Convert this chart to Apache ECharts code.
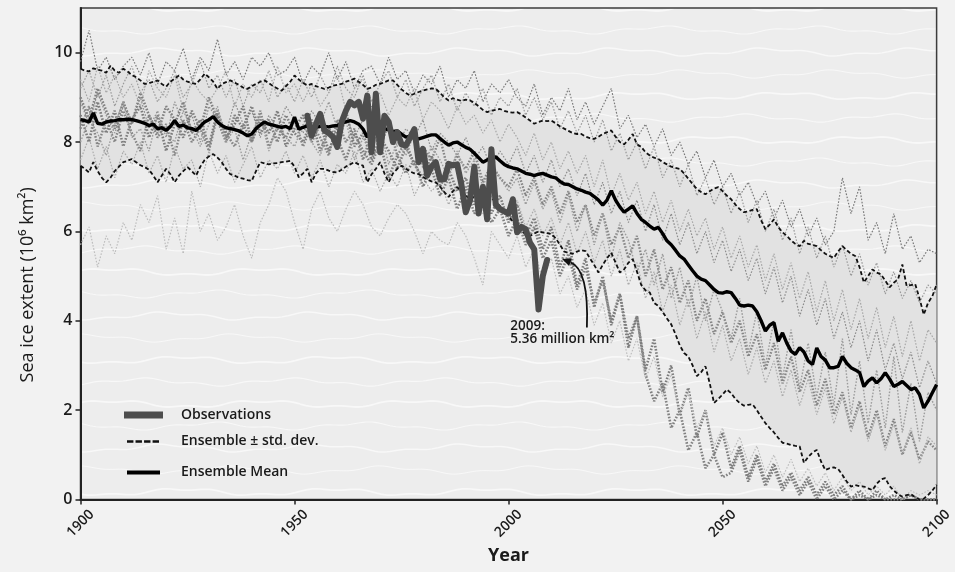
<!DOCTYPE html>
<html><head><meta charset="utf-8">
<script src="https://cdn.jsdelivr.net/npm/echarts@6/dist/echarts.min.js"></script>
<style>html,body{margin:0;padding:0;background:#f2f2f2}#c{width:955px;height:572px}</style>
</head><body><div id="c"></div>
<script>
// ---------- DATA ----------
const yearsAnnual = []; for (let y = 1900; y <= 2100; y++) yearsAnnual.push(y);
const memberYears = []; for (let y = 1900; y <= 2100; y += 2) memberYears.push(y);
const obsYears = []; for (let y = 1953; y <= 2009; y++) obsYears.push(y);
const xTicks = [1900, 1950, 2000, 2050, 2100];
const yTicks = [0, 2, 4, 6, 8, 10];

const ensembleMean = [
 8.50,8.48,8.45,8.65,8.42,8.40,8.45,8.47,8.48,8.50,
 8.50,8.51,8.50,8.48,8.45,8.42,8.37,8.40,8.30,8.32,
 8.26,8.35,8.48,8.35,8.38,8.32,8.30,8.26,8.35,8.45,
 8.50,8.57,8.45,8.37,8.32,8.30,8.28,8.25,8.20,8.14,
 8.18,8.30,8.38,8.45,8.40,8.38,8.35,8.33,8.35,8.30,
 8.56,8.29,8.33,8.36,8.34,8.33,8.35,8.35,8.34,8.36,
 8.37,8.42,8.45,8.48,8.45,8.40,8.29,8.11,8.28,8.30,
 8.32,8.30,8.27,8.24,8.25,8.18,8.11,8.13,8.10,8.07,
 8.10,8.13,8.16,8.16,8.08,8.00,7.93,7.98,8.00,7.94,
 7.88,7.84,7.75,7.65,7.55,7.60,7.64,7.67,7.58,7.50,
 7.45,7.42,7.40,7.35,7.30,7.28,7.25,7.28,7.30,7.26,
 7.22,7.20,7.12,7.06,7.05,7.00,6.95,6.92,6.88,6.85,
 6.78,6.70,6.59,6.70,6.91,6.70,6.55,6.43,6.50,6.57,
 6.40,6.27,6.20,6.12,6.05,6.09,5.95,5.79,5.70,5.58,
 5.45,5.38,5.25,5.12,5.00,4.93,4.90,4.80,4.70,4.63,
 4.62,4.65,4.63,4.50,4.35,4.33,4.35,4.33,4.20,4.00,
 3.77,3.90,3.96,3.54,3.73,3.50,3.32,3.25,3.40,3.30,
 3.10,3.02,3.39,3.20,3.12,2.95,2.95,2.98,3.20,3.05,
 2.95,2.90,2.84,2.53,2.65,2.72,2.61,2.70,2.84,2.70,
 2.53,2.58,2.64,2.55,2.46,2.50,2.35,2.05,2.20,2.39,
 2.57];

const ensembleUpper = [
 9.64,9.60,9.58,9.65,9.62,9.60,9.55,9.71,9.60,9.55,
 9.64,9.58,9.50,9.45,9.38,9.30,9.32,9.35,9.38,9.30,
 9.24,9.35,9.42,9.49,9.40,9.35,9.32,9.30,9.40,9.53,
 9.45,9.35,9.19,9.30,9.34,9.38,9.33,9.28,9.22,9.19,
 9.25,9.30,9.35,9.38,9.32,9.25,9.20,9.15,9.25,9.35,
 9.49,9.40,9.32,9.27,9.30,9.25,9.22,9.19,9.22,9.26,
 9.28,9.30,9.35,9.38,9.42,9.35,9.28,9.19,9.22,9.28,
 9.30,9.34,9.38,9.38,9.28,9.18,9.10,9.04,9.08,9.12,
 9.15,9.18,9.20,9.19,9.10,9.00,8.93,8.98,8.95,8.92,
 8.95,8.93,8.88,8.80,8.72,8.67,8.70,8.72,8.74,8.70,
 8.67,8.66,8.67,8.62,8.55,8.48,8.41,8.45,8.48,8.47,
 8.48,8.42,8.35,8.30,8.25,8.20,8.18,8.18,8.12,8.09,
 8.07,8.12,8.18,8.22,8.26,8.12,8.00,7.95,8.05,8.18,
 7.95,7.89,7.77,7.70,7.65,7.62,7.55,7.50,7.45,7.42,
 7.40,7.30,7.18,7.06,6.95,6.88,6.83,6.90,6.96,6.99,
 6.90,6.80,6.72,6.60,6.50,6.43,6.45,6.48,6.50,6.25,
 6.05,6.15,6.27,6.10,5.98,5.90,5.80,5.72,5.67,5.79,
 5.72,5.70,5.67,5.58,5.50,5.45,5.41,5.55,5.67,5.58,
 5.50,5.45,5.20,4.86,5.00,5.15,5.08,5.04,4.90,4.75,
 4.85,4.93,5.26,4.78,4.80,4.82,4.50,4.14,4.40,4.55,
 4.81];

const ensembleLower = [
 7.47,7.40,7.32,7.55,7.35,7.20,7.10,7.20,7.35,7.45,
 7.55,7.58,7.62,7.55,7.48,7.44,7.38,7.25,7.10,7.25,
 7.40,7.28,7.10,7.25,7.35,7.44,7.35,7.25,7.45,7.60,
 7.68,7.73,7.65,7.55,7.40,7.28,7.25,7.20,7.18,7.15,
 7.13,7.35,7.55,7.52,7.50,7.52,7.53,7.55,7.56,7.58,
 7.45,7.21,7.30,7.40,7.10,7.30,7.40,7.40,7.36,7.33,
 7.32,7.38,7.45,7.50,7.55,7.50,7.47,7.10,7.28,7.40,
 7.55,7.30,7.10,7.30,7.40,7.47,7.40,7.34,7.30,7.28,
 7.22,7.16,7.12,7.10,7.00,6.88,6.77,6.90,6.99,6.90,
 6.80,6.72,6.78,6.84,6.88,6.85,6.75,6.65,6.57,6.45,
 6.35,6.22,6.10,6.00,5.94,5.90,5.95,6.00,5.98,5.96,
 5.94,5.85,5.70,5.55,5.52,5.50,5.55,5.58,5.56,5.40,
 5.25,5.08,5.25,5.40,5.52,5.30,5.08,5.15,5.30,5.38,
 5.10,4.80,4.68,4.63,4.40,4.33,4.20,4.05,3.92,3.70,
 3.45,3.28,3.20,3.00,2.76,2.85,2.98,2.60,2.16,2.25,
 2.35,2.46,2.38,2.25,2.16,2.10,2.12,2.13,2.00,1.85,
 1.71,1.60,1.50,1.38,1.27,1.25,1.22,1.20,1.19,0.82,
 0.95,1.05,1.11,0.85,0.66,0.70,0.72,0.68,0.55,0.40,
 0.29,0.32,0.30,0.29,0.25,0.21,0.35,0.45,0.48,0.30,
 0.20,0.12,0.06,0.10,0.12,0.05,0.00,0.02,0.10,0.20,
 0.33];

const observations = [
 8.59,8.14,8.40,8.63,8.26,8.20,8.11,7.89,8.45,8.70,
 8.90,8.82,8.90,8.52,9.04,7.77,9.08,7.77,8.59,8.45,
 8.00,8.22,7.95,7.92,8.10,8.29,7.55,7.85,7.25,7.45,
 7.55,7.17,7.17,7.51,7.48,7.50,7.04,6.43,6.70,7.45,
 6.40,7.00,6.27,7.84,6.60,6.50,6.45,6.40,6.72,5.98,
 6.10,6.05,5.75,5.60,4.25,5.00,5.36];

// ensemble members, every second year 1900..2100
const member1 = [
 9.8,10.5,9.6,9.9,9.4,9.7,9.9,9.5,10.0,9.3,9.8,9.6,10.1,9.4,9.9,9.6,10.3,9.5,9.8,9.4,9.9,9.7,10.0,9.5,9.6,9.9,
 9.3,9.7,9.5,10.0,9.4,9.8,9.2,9.6,9.7,9.3,9.9,9.4,9.6,9.1,9.5,9.3,9.7,9.0,9.4,9.2,9.6,8.9,9.3,9.1,9.4,
 9.0,8.8,9.3,8.6,9.0,8.7,9.2,8.5,8.9,8.4,8.8,9.2,8.3,8.6,8.1,8.4,7.9,8.3,7.7,8.0,7.5,7.8,7.2,7.6,7.0,
 7.3,6.8,7.1,6.6,6.9,6.3,6.7,6.1,6.5,5.9,6.3,5.7,6.0,7.2,6.4,7.0,5.8,6.2,5.5,6.4,5.6,5.9,5.3,5.6,5.5];
const member2 = [
 9.2,9.6,9.0,9.5,8.8,9.3,9.7,9.1,9.4,8.9,9.2,9.6,9.0,9.3,9.8,9.2,9.5,9.0,9.4,8.8,9.3,9.1,9.6,9.0,9.3,8.9,
 9.4,9.0,9.5,9.1,9.7,9.2,9.0,9.5,8.9,9.3,9.6,9.0,9.4,8.8,9.2,9.5,8.9,9.3,8.7,9.1,8.8,9.2,8.6,9.0,8.8,
 9.2,8.6,9.0,8.5,8.9,8.3,8.7,8.2,8.6,8.0,8.5,7.8,8.2,7.6,8.0,7.4,7.9,7.2,7.6,7.0,7.5,6.8,7.2,6.6,7.0,
 6.4,6.9,6.2,6.7,6.0,6.5,5.8,6.3,5.5,6.1,5.4,5.9,5.2,5.7,5.0,5.5,4.8,5.3,4.6,5.1,4.5,4.9,4.4,4.8,4.6];
const member3 = [
 8.9,8.4,9.1,8.6,8.2,8.8,8.5,9.0,8.3,8.7,8.1,8.9,8.4,8.6,8.0,8.8,8.5,8.2,8.9,8.4,8.7,8.1,8.6,8.3,8.8,8.5,
 8.2,8.7,8.4,8.9,8.3,8.6,8.1,8.5,8.8,8.2,8.4,7.9,8.3,8.1,8.5,7.8,8.2,8.0,7.7,8.1,7.6,7.9,7.4,7.8,7.5,
 7.9,7.3,7.7,7.1,7.6,7.0,7.4,6.8,7.3,6.6,7.1,6.4,6.9,6.2,6.7,6.0,6.6,5.8,6.4,5.7,6.2,5.5,6.0,5.3,5.8,
 5.1,5.6,4.9,5.4,4.6,5.2,4.4,5.0,4.1,4.7,3.9,4.5,3.6,4.2,3.4,4.0,3.1,3.8,2.9,3.5,2.7,3.3,2.5,3.1,2.6];
const member4 = [
 8.3,8.8,7.9,8.5,8.0,8.7,8.2,7.8,8.6,8.1,8.4,7.7,8.5,8.0,8.3,7.8,8.6,8.2,7.9,8.4,8.0,8.7,7.9,8.3,8.1,8.5,
 7.9,8.4,8.1,7.7,8.5,8.0,8.3,7.6,8.2,7.9,8.4,7.7,8.0,7.5,7.9,7.6,8.1,7.3,7.7,7.4,7.8,7.1,7.5,7.2,7.0,
 7.4,6.8,7.2,6.6,7.0,6.4,6.9,6.2,6.6,5.9,6.4,5.7,6.1,5.4,5.9,5.0,5.6,4.7,5.2,4.4,4.9,4.0,4.5,3.7,4.2,
 3.5,4.0,3.2,3.7,2.9,3.5,2.6,3.2,2.4,2.9,2.1,2.7,1.9,2.4,1.6,2.2,1.4,2.0,1.2,1.8,1.0,1.5,0.9,1.3,1.1];
const member5 = [
 7.6,8.1,7.4,7.9,7.2,7.8,7.5,8.0,7.3,7.7,7.1,7.9,7.4,7.6,7.0,7.8,7.3,7.7,7.1,7.5,7.9,7.2,7.6,7.4,7.8,7.3,
 7.7,7.2,7.6,7.0,7.5,7.3,7.8,7.1,7.4,6.9,7.3,7.0,7.5,6.8,7.2,6.9,7.1,6.6,7.0,6.7,6.9,6.4,6.8,6.5,6.3,
 6.7,6.1,6.5,5.9,6.3,5.7,6.2,5.5,6.0,5.3,5.8,5.0,5.6,4.8,5.3,4.5,5.1,4.2,4.8,3.9,4.5,3.6,4.2,3.3,3.9,
 3.1,3.6,2.8,3.4,2.6,3.1,2.3,2.9,2.1,2.7,1.9,2.5,1.7,2.3,1.5,2.1,1.3,1.9,1.1,1.7,1.0,1.6,0.8,1.4,1.2];
const member6 = [
 8.6,8.0,8.9,8.2,8.7,7.9,8.5,8.8,8.1,8.6,7.8,8.4,8.9,8.2,8.5,7.9,8.7,8.1,8.4,8.8,8.0,8.5,8.2,8.7,7.9,8.3,
 8.6,8.0,8.4,7.8,8.3,8.7,7.9,8.2,7.6,8.1,7.8,7.4,7.9,7.5,7.2,7.7,7.0,7.4,6.9,7.2,6.6,7.0,6.4,6.8,6.2,
 6.6,5.9,6.3,5.6,6.1,5.2,5.8,4.8,5.4,4.3,5.0,3.9,4.6,3.4,4.1,2.9,3.6,2.4,3.0,1.9,2.5,1.4,2.0,1.0,1.5,
 0.7,1.2,0.5,1.0,0.4,0.8,0.3,0.6,0.2,0.5,0.1,0.4,0.1,0.3,0.0,0.2,0.0,0.2,0.0,0.1,0.0,0.1,0.0,0.0,0.0];
const member7 = [
 9.0,8.5,9.2,8.7,8.3,8.9,8.4,9.1,8.6,8.2,8.8,8.5,8.1,8.7,8.3,9.0,8.5,8.0,8.6,8.3,8.8,8.2,8.5,8.0,8.6,8.2,
 8.0,8.5,7.8,8.3,8.1,7.6,8.2,7.8,7.5,8.0,7.2,7.7,7.3,7.6,7.0,7.4,6.8,7.2,6.5,7.0,6.4,6.7,6.2,6.5,5.9,
 6.3,5.7,6.1,5.4,5.8,5.0,5.5,4.7,5.2,4.4,4.9,4.0,4.6,3.6,4.1,2.8,2.2,2.6,1.6,2.0,1.1,1.5,0.7,1.0,0.5,
 0.6,1.1,0.4,0.9,0.3,0.7,0.2,0.5,0.1,0.4,0.0,0.3,0.0,0.2,0.0,0.1,0.0,0.1,0.0,0.0,0.0,0.1,0.0,0.0,0.0];
const member8 = [
 5.7,6.1,5.2,5.9,5.5,6.2,5.8,6.6,6.2,6.8,5.6,6.3,5.5,6.9,6.0,6.4,5.8,6.1,6.6,5.9,5.4,6.2,6.6,7.2,6.9,6.2,
 5.6,6.5,6.9,6.3,6.0,6.5,6.9,6.6,6.1,5.9,6.3,6.6,6.4,6.0,5.5,6.0,5.8,5.7,6.2,5.9,5.4,4.8,6.0,5.7,5.4,
 5.9,5.2,5.6,4.9,5.4,4.6,5.0,4.3,4.7,3.9,4.4,3.5,4.0,3.1,3.6,2.7,3.2,2.3,2.8,1.9,2.4,1.6,2.0,1.2,1.6,
 1.0,1.4,0.8,1.2,0.6,1.0,0.5,0.9,0.4,0.7,0.3,0.6,0.2,0.5,0.2,0.4,0.1,0.3,0.1,0.3,0.0,0.2,0.1,0.2,0.1];
const member9 = [
 8.0,8.5,8.2,7.7,8.4,8.9,8.1,8.3,7.8,8.6,8.2,8.0,8.7,8.3,7.9,8.4,8.8,8.0,8.3,7.6,8.2,8.6,7.8,8.4,8.1,7.9,
 8.4,8.0,7.7,8.3,7.9,8.5,7.6,8.1,7.8,8.3,7.5,8.0,7.7,8.2,7.4,7.9,7.6,7.2,7.8,7.3,7.6,7.0,7.5,7.2,6.9,
 7.2,6.6,7.1,6.5,6.9,6.2,6.8,6.0,6.6,5.7,6.4,5.4,6.2,5.8,5.1,5.6,4.8,5.5,4.5,5.2,4.3,5.0,4.0,4.7,4.2,
 3.6,4.5,3.3,4.2,3.0,4.0,2.7,3.8,2.5,3.5,2.3,3.3,2.1,3.6,1.9,3.1,1.7,2.9,1.6,3.2,1.5,2.6,1.3,2.4,2.0];
const member10 = [
 9.4,8.9,9.7,9.1,9.5,9.0,9.3,8.8,9.6,9.2,9.0,9.5,8.7,9.4,9.1,8.9,9.2,9.6,8.8,9.3,9.0,9.4,8.9,9.7,9.1,9.3,
 8.9,9.3,8.8,9.1,9.5,8.7,9.2,9.4,8.9,9.1,8.6,9.0,8.8,9.2,8.5,8.9,8.7,8.3,8.8,8.4,8.6,8.2,8.5,8.0,8.4,
 8.1,7.7,8.2,7.6,8.0,7.4,7.8,7.3,7.7,7.0,7.6,6.8,7.3,6.7,7.1,6.4,6.9,6.2,6.7,6.0,6.5,5.9,6.3,5.6,6.1,
 5.4,5.9,5.2,5.7,4.9,5.5,4.7,5.3,4.5,5.1,4.2,4.9,4.0,4.7,3.8,4.5,3.6,4.3,3.4,4.1,3.2,4.0,3.1,3.8,3.5];

const annotationLines = ['2009:', '5.36 million km²'];
const annotationTextAt = [2000.4, 4.02];   // [year, extent] top-left of the label
const arrowFrom = [2018.3, 3.85];
const arrowControl = [2018.8, 5.15];
const arrowTo = [2012.5, 5.38];

// ---------- CHART ----------
const FONT = '"Open Sans", "DejaVu Sans", sans-serif';
const pairs = (xs, ys) => xs.map((x, i) => [x, ys[i]]);

// soft snow-like background texture for the plot area (decoration only)
function makeTexture() {
  const c = document.createElement('canvas');
  c.width = 300; c.height = 132;
  const g = c.getContext('2d');
  g.fillStyle = '#ededed';
  g.fillRect(0, 0, c.width, c.height);
  const phases = [0.0, 2.1, 4.0, 1.2, 3.3, 5.1];
  const widths = [1.8, 1.1, 1.5, 1.0, 1.7, 1.2];
  g.strokeStyle = 'rgba(255,255,255,0.6)';
  for (let k = -1; k <= 6; k++) {
    const kk = (k + 6) % 6;
    g.lineWidth = widths[kk];
    g.beginPath();
    for (let x = 0; x <= 300; x += 3) {
      const y = k * 22 + 8 + 3 * Math.sin(2 * Math.PI * x / 150 + phases[kk]) + 1.2 * Math.sin(2 * Math.PI * x / 50 + phases[kk]);
      if (x === 0) g.moveTo(x, y); else g.lineTo(x, y);
    }
    g.stroke();
  }
  return c;
}

const members = [member1, member2, member3, member4, member5, member6, member7, member8, member9, member10];
const memberLook = [
  { color: '#7a7a7a', width: 1.2 }, { color: '#9a9a9a', width: 1.2 }, { color: '#8c8c8c', width: 1.2 },
  { color: '#858585', width: 2.4 }, { color: '#aaaaaa', width: 1.2 }, { color: '#7c7c7c', width: 2.6 },
  { color: '#808080', width: 2.6 }, { color: '#bdbdbd', width: 1.2 }, { color: '#9c9c9c', width: 1.4 },
  { color: '#a8a8a8', width: 1.2 }
];

const series = [];
// shaded band between ensemble mean ± std. dev.
series.push({
  name: 'band', type: 'custom', silent: true, clip: true,
  data: [[yearsAnnual[0], ensembleLower[0]]],
  encode: { x: 0, y: 1 },
  renderItem: function (params, api) {
    const pts = [];
    for (let i = 0; i < yearsAnnual.length; i++) pts.push(api.coord([yearsAnnual[i], ensembleUpper[i]]));
    for (let i = yearsAnnual.length - 1; i >= 0; i--) pts.push(api.coord([yearsAnnual[i], ensembleLower[i]]));
    return { type: 'polygon', shape: { points: pts }, style: { fill: '#e2e2e2' } };
  }
});
members.forEach((m, i) => {
  series.push({ name: 'member' + (i + 1), type: 'line', symbol: 'none', silent: true,
    data: pairs(memberYears, m),
    lineStyle: { color: memberLook[i].color, width: memberLook[i].width, type: [1.6, 1.6] } });
});
['upper', 'lower'].forEach((k) => {
  series.push({ name: 'Ensemble ± std. dev.', type: 'line', symbol: 'none', silent: true,
    data: pairs(yearsAnnual, k === 'upper' ? ensembleUpper : ensembleLower),
    itemStyle: { color: '#111' },
    lineStyle: { color: '#111', width: 1.8, type: [4, 2.5] } });
});
series.push({ name: 'Ensemble Mean', type: 'line', symbol: 'none', silent: true,
  data: pairs(yearsAnnual, ensembleMean), itemStyle: { color: '#000' },
  lineStyle: { color: '#000', width: 3.4 } });
series.push({ name: 'Observations', type: 'line', symbol: 'none', silent: true,
  data: pairs(obsYears, observations), itemStyle: { color: '#4d4d4d' },
  lineStyle: { color: '#4d4d4d', width: 6, join: 'round', cap: 'round' } });

const legendText = { fontFamily: FONT, fontSize: 14, fontWeight: 600, color: '#1a1a1a' };

const chart = echarts.init(document.getElementById('c'), null, { renderer: 'canvas' });
chart.setOption({
  animation: false,
  backgroundColor: '#f2f2f2',
  grid: { left: 80.5, right: 16.5, top: 8, bottom: 72.5, show: true,
          backgroundColor: { image: makeTexture(), repeat: 'repeat' },
          borderColor: '#3c3c3c', borderWidth: 1.5 },
  legend: [
    { left: 124, top: 408, padding: 0, itemWidth: 39, itemHeight: 7, selectedMode: false,
      textStyle: Object.assign({}, legendText, { padding: [0, 0, 0, 13] }),
      data: [{ name: 'Observations', icon: 'rect', itemStyle: { color: '#4d4d4d', borderWidth: 0 } }] },
    { left: 127, top: 434.5, padding: 0, itemWidth: 32, itemHeight: 2.5, selectedMode: false,
      textStyle: Object.assign({}, legendText, { padding: [0, 0, 0, 17] }),
      data: [{ name: 'Ensemble ± std. dev.', icon: 'path://M0,0h7v2.5h-7z M9.3,0h7v2.5h-7z M18.6,0h7v2.5h-7z M27.9,0h7v2.5h-7z',
               itemStyle: { color: '#111', borderWidth: 0 } }] },
    { left: 127, top: 465.5, padding: 0, itemWidth: 33, itemHeight: 4, selectedMode: false,
      textStyle: Object.assign({}, legendText, { padding: [0, 0, 0, 16] }),
      data: [{ name: 'Ensemble Mean', icon: 'rect', itemStyle: { color: '#000', borderWidth: 0 } }] }
  ],
  xAxis: {
    type: 'value', min: 1900, max: 2100, interval: 50,
    name: 'Year', nameLocation: 'middle', nameGap: 45,
    nameTextStyle: { fontFamily: FONT, fontSize: 18, fontWeight: 'bold', color: '#1a1a1a' },
    axisLine: { show: true, lineStyle: { color: '#222', width: 2 } },
    axisTick: { show: true, length: 5, lineStyle: { color: '#222', width: 1.5 }, customValues: xTicks },
    axisLabel: { rotate: 45, align: 'center', verticalAlign: 'middle', margin: 24, customValues: xTicks,
      formatter: (v) => String(v),
      fontFamily: FONT, fontSize: 14, fontWeight: 600, color: '#1a1a1a' },
    splitLine: { show: false }
  },
  yAxis: {
    type: 'value', min: 0, max: 11, interval: 2,
    name: 'Sea ice extent (10⁶ km²)', nameLocation: 'middle', nameGap: 44,
    nameTextStyle: { fontFamily: FONT, fontSize: 18, color: '#1a1a1a', padding: [0, 62, 0, 0] },
    axisLine: { show: true, lineStyle: { color: '#222', width: 2 } },
    axisTick: { show: true, length: 5, lineStyle: { color: '#222', width: 1.5 }, customValues: yTicks },
    axisLabel: { margin: 8, customValues: yTicks, fontFamily: FONT, fontSize: 16, fontWeight: 600, color: '#1a1a1a' },
    splitLine: { show: false }
  },
  series: series
});

function drawAnnotation() {
  const p0 = chart.convertToPixel({ gridIndex: 0 }, arrowFrom);
  const pc = chart.convertToPixel({ gridIndex: 0 }, arrowControl);
  const p1 = chart.convertToPixel({ gridIndex: 0 }, arrowTo);
  const pt = chart.convertToPixel({ gridIndex: 0 }, annotationTextAt);
  const dx = p1[0] - pc[0], dy = p1[1] - pc[1];
  const len = Math.sqrt(dx * dx + dy * dy);
  const ux = dx / len, uy = dy / len;
  const hl = 9, hw = 4;
  const bx = p1[0] - ux * hl, by = p1[1] - uy * hl;
  chart.setOption({
    graphic: [
      { type: 'bezierCurve', z: 100, silent: true,
        shape: { x1: p0[0], y1: p0[1], cpx1: pc[0], cpy1: pc[1], x2: bx, y2: by },
        style: { stroke: '#111', lineWidth: 1.8, fill: null } },
      { type: 'polygon', z: 100, silent: true,
        shape: { points: [[p1[0], p1[1]], [bx - uy * hw, by + ux * hw], [bx + uy * hw, by - ux * hw]] },
        style: { fill: '#111' } },
      { type: 'text', z: 100, silent: true, x: pt[0], y: pt[1],
        style: { text: annotationLines.join('\n'), font: '600 13.5px ' + FONT, fill: '#1a1a1a', lineHeight: 13,
                 verticalAlign: 'top' } }
    ]
  });
}
drawAnnotation();
</script>
</body></html>
